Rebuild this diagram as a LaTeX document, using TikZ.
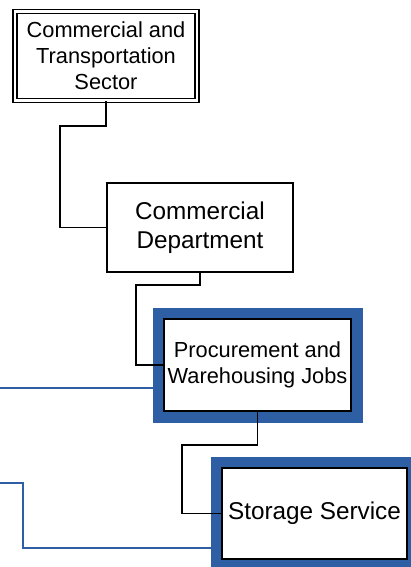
\documentclass[tikz,border=0pt]{standalone}
\usepackage{fontspec}
\setmainfont{Liberation Sans}
\definecolor{frameblue}{RGB}{46,95,165}
\tikzset{
  unit/.style={draw=black, fill=white, line width=1.4pt, align=center, inner sep=0pt},
  sectorbox/.style={unit, double=white, double distance=2.6pt, line width=1.4pt},
  jobbox/.style={unit, preaction={draw=frameblue, line width=23pt}},
  wire/.style={draw=black, line width=1.4pt},
  bluewire/.style={draw=frameblue, line width=2.4pt},
}
\begin{document}
\begin{tikzpicture}[x=1pt, y=-1pt]
\newcommand\smallfont{\fontsize{21.8pt}{26pt}\selectfont}
\newcommand\bigfont{\fontsize{24.3pt}{29pt}\selectfont}
\useasboundingbox (0,0) rectangle (411,567);

\coordinate (w1) at (0,388);
\coordinate (w2) at (0,483);
\coordinate (w3) at (23,548);

\node (sector) at (106,56) [sectorbox, minimum width=182pt, minimum height=88.5pt, font=\smallfont] {Commercial and\\Transportation\\Sector};
\node (dept) at (200,227.5) [unit, minimum width=186pt, minimum height=89pt, font=\bigfont] {Commercial\\Department};

\draw [bluewire] (w1) -- (w1 -| 160,0);
\draw [bluewire] (w2) -| (w3) -- (w3 -| 215,0);

\node (jobs) at (257.5,365) [jobbox, minimum width=187pt, minimum height=92pt, font=\smallfont] {Procurement and\\Warehousing Jobs};
\node (storage) at (314.5,513.5) [jobbox, minimum width=185pt, minimum height=91pt, font=\bigfont] {Storage Service};

\coordinate (k1) at (60,126);
\coordinate (k2) at (136,285);
\coordinate (k3) at (182,445);

\draw [wire] (sector.south) |- (k1) |- (dept.west);
\draw [wire] (dept.south) |- (k2) |- (jobs.west);
\draw [wire] (jobs.south) |- (k3) |- (storage.west);
\end{tikzpicture}
\end{document}
